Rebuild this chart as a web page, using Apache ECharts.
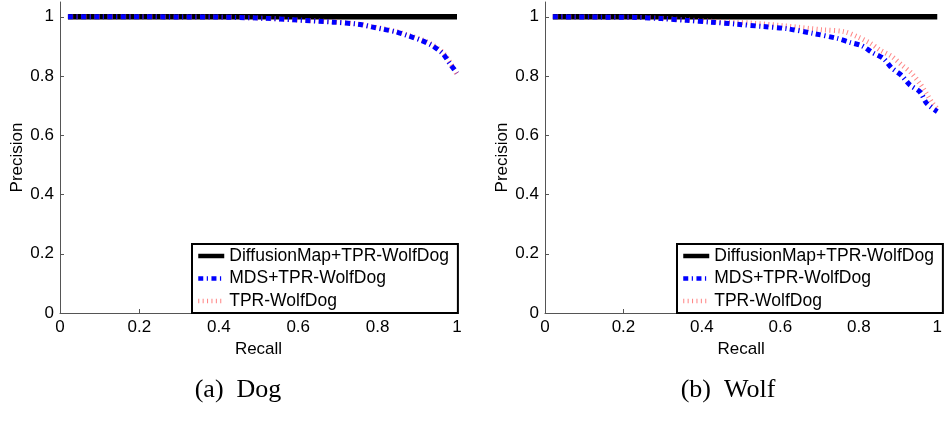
<!DOCTYPE html>
<html><head><meta charset="utf-8">
<script src="https://cdn.jsdelivr.net/npm/echarts@6/dist/echarts.min.js"></script>
<style>html,body{margin:0;padding:0;background:#fff}#c{width:945px;height:423px}</style>
</head><body><div id="c"></div>
<script>
// ---- data ----
const seriesNames = ['DiffusionMap+TPR-WolfDog', 'MDS+TPR-WolfDog', 'TPR-WolfDog'];
const xTicks = [0, 0.2, 0.4, 0.6, 0.8, 1];
const yTicks = [0, 0.2, 0.4, 0.6, 0.8, 1];
const captions = ['(a)  Dog', '(b)  Wolf'];

// Dog panel
const dogDiffRecall = [0.02, 0.5, 1.0];
const dogDiffPrec   = [1.0, 1.0, 1.0];
const dogMdsRecall  = [0.02, 0.1, 0.2, 0.3, 0.395, 0.495, 0.587, 0.688, 0.751, 0.785, 0.814, 0.846, 0.877, 0.909, 0.936, 0.964, 0.982, 1.0];
const dogMdsPrec    = [1.0, 1.0, 1.0, 0.9995, 0.999, 0.996, 0.99, 0.982, 0.975, 0.966, 0.958, 0.949, 0.936, 0.921, 0.904, 0.876, 0.842, 0.81];
const dogTprRecall  = [0.02, 0.1, 0.2, 0.3, 0.395, 0.495, 0.587, 0.688, 0.751, 0.785, 0.814, 0.846, 0.877, 0.909, 0.936, 0.964, 0.982, 1.0];
const dogTprPrec    = [1.0, 1.0, 1.0, 0.9995, 0.999, 0.996, 0.99, 0.983, 0.976, 0.967, 0.96, 0.951, 0.938, 0.924, 0.907, 0.88, 0.847, 0.805];

// Wolf panel
const wolfDiffRecall = [0.02, 0.5, 1.0];
const wolfDiffPrec   = [1.0, 1.0, 1.0];
const wolfMdsRecall  = [0.02, 0.134, 0.23, 0.297, 0.36, 0.423, 0.49, 0.557, 0.616, 0.683, 0.745, 0.777, 0.808, 0.835, 0.863, 0.884, 0.909, 0.93, 0.956, 0.973, 1.0];
const wolfMdsPrec    = [1.0, 0.999, 0.998, 0.994, 0.988, 0.982, 0.975, 0.967, 0.96, 0.944, 0.927, 0.914, 0.902, 0.879, 0.859, 0.827, 0.802, 0.77, 0.746, 0.708, 0.68];
const wolfTprRecall  = [0.02, 0.134, 0.23, 0.297, 0.36, 0.423, 0.49, 0.523, 0.607, 0.708, 0.762, 0.796, 0.829, 0.854, 0.884, 0.909, 0.934, 0.955, 0.972, 0.988, 1.0];
const wolfTprPrec    = [1.0, 0.999, 0.998, 0.995, 0.99, 0.985, 0.981, 0.979, 0.97, 0.956, 0.95, 0.933, 0.911, 0.888, 0.866, 0.838, 0.81, 0.776, 0.742, 0.708, 0.69];

// ---- build ----
const zip = (xs, ys) => xs.map((x, i) => [x, ys[i]]);
const FONT = 'Liberation Sans, Arial, Helvetica, sans-serif';
const axisCol = '#555';

const styles = [
  { color: '#000', width: 5.5, type: 'solid' },
  { color: '#0000ff', width: 5, type: [5, 3.5, 1.2, 3.5] },
  { color: 'rgba(255,80,80,0.7)', width: 5, type: [1, 3.4] }
];

const panels = [
  { left: 60, width: 397, capX: 238, data: [zip(dogDiffRecall, dogDiffPrec), zip(dogMdsRecall, dogMdsPrec), zip(dogTprRecall, dogTprPrec)] },
  { left: 545, width: 398, capX: 728, data: [zip(wolfDiffRecall, wolfDiffPrec), zip(wolfMdsRecall, wolfMdsPrec), zip(wolfTprRecall, wolfTprPrec)] }
];

const grid = [], xAxis = [], yAxis = [], series = [], legend = [], graphic = [];
panels.forEach((p, i) => {
  grid.push({ left: p.left, width: p.width, top: 2, height: 311, containLabel: false });
  xAxis.push({
    type: 'value', gridIndex: i, min: 0, max: 1, interval: 0.2,
    name: 'Recall', nameLocation: 'middle', nameGap: 22,
    nameTextStyle: { fontFamily: FONT, fontSize: 17, color: '#000' },
    axisLine: { show: true, onZero: false, lineStyle: { color: axisCol, width: 1 } },
    axisTick: { show: true, inside: true, length: 4, lineStyle: { color: axisCol } },
    axisLabel: { fontFamily: FONT, fontSize: 17, color: '#000', margin: 6, showMaxLabel: true, showMinLabel: true },
    splitLine: { show: false }
  });
  yAxis.push({
    type: 'value', gridIndex: i, min: 0, max: 1.05,
    name: 'Precision', nameLocation: 'middle', nameGap: 34, nameRotate: 90,
    nameTextStyle: { fontFamily: FONT, fontSize: 17, color: '#000' },
    axisLine: { show: true, onZero: false, lineStyle: { color: axisCol, width: 1 } },
    axisTick: { show: true, inside: true, length: 4, lineStyle: { color: axisCol }, customValues: yTicks },
    axisLabel: { fontFamily: FONT, fontSize: 17, color: '#000', margin: 6, customValues: yTicks },
    splitLine: { show: false }
  });
  const order = [0, 2, 1];
  order.forEach(k => {
    series.push({
      name: seriesNames[k], type: 'line', xAxisIndex: i, yAxisIndex: i,
      data: p.data[k], showSymbol: false, symbol: 'none', smooth: 0.3,
      lineStyle: { color: styles[k].color, width: styles[k].width, type: styles[k].type, cap: 'butt' },
      itemStyle: { color: styles[k].color },
      z: 2 + (k === 1 ? 2 : k === 2 ? 1 : 0),
      animation: false, silent: true
    });
  });
  legend.push({
    data: seriesNames, orient: 'vertical',
    left: p.left + 132, top: 244,
    itemWidth: 26, itemHeight: 14, itemGap: 4.5,
    padding: [3, 9, 3, 4],
    borderColor: '#000', borderWidth: 2, backgroundColor: '#fff',
    itemStyle: { opacity: 0, borderWidth: 0 },
    lineStyle: { width: 4.5, cap: 'butt' },
    textStyle: { fontFamily: FONT, fontSize: 17.5, color: '#000', lineHeight: 16 },
    selectedMode: false
  });
  graphic.push({
    type: 'text', x: p.capX, y: 390,
    style: { text: captions[i], fontFamily: 'Liberation Serif, DejaVu Serif, serif', fontSize: 26, fill: '#000', textAlign: 'center', textVerticalAlign: 'middle' }
  });
});

const chart = echarts.init(document.getElementById('c'), null, { renderer: 'canvas' });
chart.setOption({ animation: false, grid, xAxis, yAxis, series, legend, graphic });
</script></body></html>
